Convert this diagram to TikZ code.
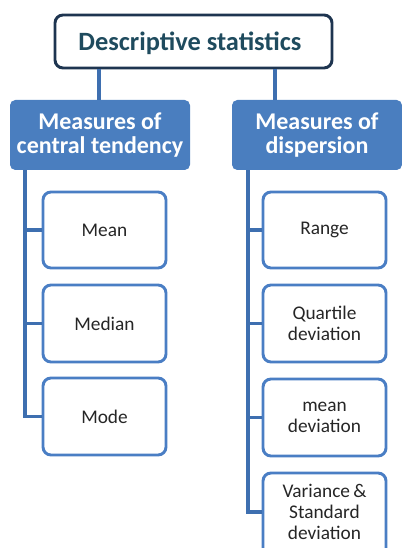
\documentclass[tikz,border=0pt]{standalone}
\usepackage{fontspec}
\setmainfont{Carlito}
\definecolor{linkblue}{HTML}{3E6FB0}
\definecolor{headblue}{HTML}{4A7EBF}
\definecolor{boxblue}{HTML}{4A7EC4}
\definecolor{topborder}{HTML}{1E3550}
\definecolor{toptext}{HTML}{1F4B5E}
\definecolor{childtext}{HTML}{262626}
\begin{document}
\begin{tikzpicture}[x=0.75pt,y=-0.75pt,
  topbox/.style={draw=topborder,line width=2.2pt,fill=white,rounded corners=6pt,inner sep=0pt},
  headbox/.style={fill=headblue,rounded corners=4pt,inner sep=0pt,text=white,font=\fontsize{18}{17.5}\selectfont\bfseries,align=center},
  childbox/.style={draw=boxblue,line width=2.2pt,fill=white,rounded corners=6pt,inner sep=0pt,text=childtext,font=\fontsize{14.5}{16}\selectfont,align=center},
  childtxt/.style={inner sep=0pt,text=childtext,font=\fontsize{14.5}{16}\selectfont,align=center},
  link/.style={draw=linkblue,line width=2.4pt}]
\useasboundingbox (0,0) rectangle (402,548);
\begin{scope}
\clip (0,0) rectangle (402,548);
% top
\node[topbox,minimum width=277*0.75pt,minimum height=53*0.75pt] (top) at (193.5,41.5) {};
\node[text=toptext,font=\fontsize{19.8}{22}\selectfont\bfseries] (toptxt) at (190,43) {Descriptive statistics};
% heads
\node[headbox,minimum width=180*0.75pt,minimum height=70*0.75pt] (cen) at (100,135) {Measures of\\central tendency};
\node[headbox,minimum width=170*0.75pt,minimum height=70*0.75pt] (dis) at (317,135) {Measures of\\dispersion};
\coordinate (t1) at (99,68);
\coordinate (t2) at (275,68);
\draw[link] (top.south -| t1) -- (cen.north -| t1);
\draw[link] (top.south -| t2) -- (dis.north -| t2);
% left children
\node[childbox,minimum width=123*0.75pt,minimum height=76*0.75pt] (mean) at (104.5,230) {Mean};
\node[childbox,minimum width=123*0.75pt,minimum height=77*0.75pt] (median) at (104.5,323.5) {Median};
\node[childbox,minimum width=123*0.75pt,minimum height=77*0.75pt] (mode) at (104.5,416.5) {Mode};
\coordinate (lx) at (25,170);
\draw[link] (cen.south -| lx) |- (mode.west);
\draw[link] (mean.west -| lx) -- (mean.west);
\draw[link] (median.west -| lx) -- (median.west);
% right children
\node[childbox,minimum width=123*0.75pt,minimum height=76*0.75pt] (range) at (324.5,230) {Range};
\node[childbox,minimum width=123*0.75pt,minimum height=77*0.75pt] (quart) at (324.5,323.5) {Quartile\\deviation};
\node[childbox,minimum width=123*0.75pt,minimum height=77*0.75pt] (mdev) at (324.5,417.5) {mean\\deviation};
\node[childbox,minimum width=123*0.75pt,minimum height=90*0.75pt] (var) at (324.5,518) {};
\node[childtxt] (vartxt) at (324.5,512) {Variance\,\&\\Standard\\deviation};
\coordinate (rx) at (248,170);
\draw[link] (dis.south -| rx) |- (vartxt.west -| var.west);
\draw[link] (range.west -| rx) -- (range.west);
\draw[link] (quart.west -| rx) -- (quart.west);
\draw[link] (mdev.west -| rx) -- (mdev.west);
\end{scope}
\end{tikzpicture}
\end{document}
